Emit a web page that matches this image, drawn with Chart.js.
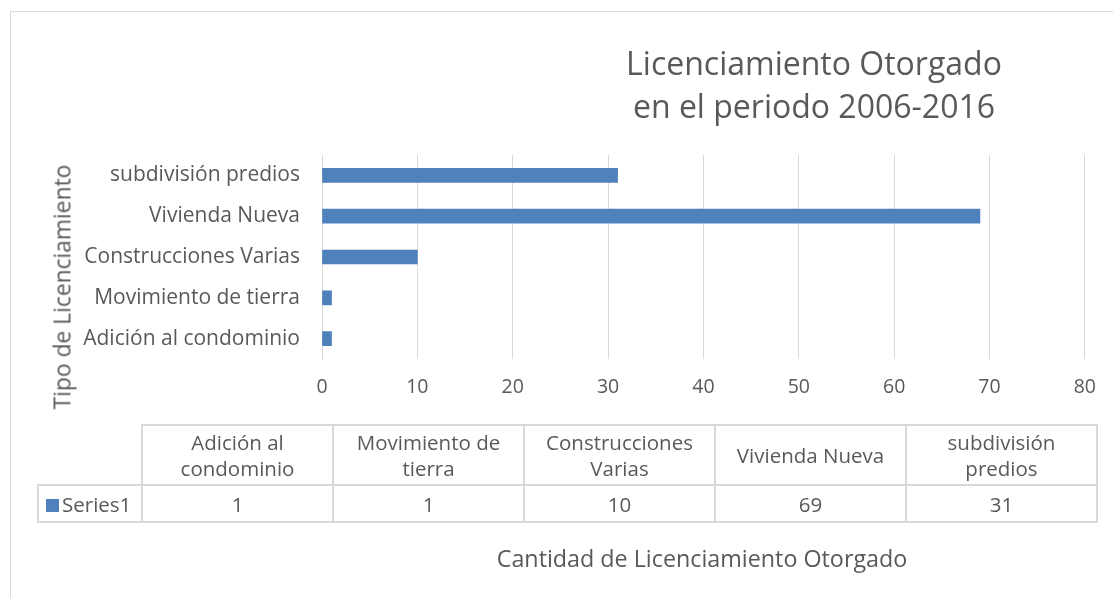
<!DOCTYPE html>
<html>
<head>
<meta charset="utf-8">
<script src="https://cdn.jsdelivr.net/npm/chart.js@4"></script>
<style>
  html, body { margin:0; padding:0; background:#fff; }
  body { width:1113px; height:598px; position:relative; overflow:hidden; font-family: "Open Sans", Lato, sans-serif; color:#595959; }
  #frame { position:absolute; left:10px; top:11px; width:1200px; height:700px; border:1px solid #d9d9d9; box-sizing:border-box; }
  #wrap { position:absolute; left:0; top:0; width:1113px; height:598px; }
  #title { position:absolute; left:564px; width:500px; top:41px; text-align:center; font-size:32px; line-height:43px; color:#595959; }
  #ytitle { position:absolute; left:62px; top:287px; transform:translate(-50%,-50%) rotate(-90deg); white-space:nowrap; font-size:22.8px; }
  #xtitle { position:absolute; left:702px; top:558px; transform:translate(-50%,-50%); white-space:nowrap; font-size:23.3px; }
  #tbl { position:absolute; left:37px; top:424px; border-collapse:collapse; font-size:20.5px; }
  #tbl td { border:2px solid #d9d9d9; text-align:center; padding:0; line-height:26px; }
  #tbl tr.h td { height:58px; }
  #tbl tr.d td { height:35px; }
  #tbl td.blank { border-top:none; border-left:none; }
  .sw { display:inline-block; width:13px; height:13px; background:#4f81bd; margin-right:3px; vertical-align:0px; }
</style>
</head>
<body>
<div id="frame"></div>
<div id="wrap"><canvas id="c" width="1113" height="598"></canvas></div>
<div id="title">Licenciamiento Otorgado<br>en el periodo 2006-2016</div>
<div id="ytitle">Tipo de Licenciamiento</div>
<div id="xtitle">Cantidad de Licenciamiento Otorgado</div>
<table id="tbl"></table>
<script>
const categories = ["Adición al condominio", "Movimiento de tierra", "Construcciones Varias", "Vivienda Nueva", "subdivisión predios"];
const tableHeaders = [["Adición al", "condominio"], ["Movimiento de", "tierra"], ["Construcciones", "Varias"], ["Vivienda Nueva"], ["subdivisión", "predios"]];
const series1 = [1, 1, 10, 69, 31];
const seriesName = "Series1";
const xTicks = [0, 10, 20, 30, 40, 50, 60, 70, 80];

// build data table
const tbl = document.getElementById('tbl');
let h = '<tr class="h"><td class="blank" style="width:103px"></td>';
tableHeaders.forEach(lines => { h += '<td style="width:189px">' + lines.join('<br>') + '</td>'; });
h += '</tr><tr class="d"><td style="text-align:left;padding-left:7px"><span class="sw"></span>' + seriesName + '</td>';
series1.forEach(v => { h += '<td>' + v + '</td>'; });
h += '</tr>';
tbl.innerHTML = h;

const FONT = "'Open Sans', Lato, sans-serif";
new Chart(document.getElementById('c'), {
  type: 'bar',
  data: {
    labels: categories,
    datasets: [{ label: seriesName, data: series1, backgroundColor: '#4f81bd', barThickness: 14 }]
  },
  options: {
    indexAxis: 'y',
    responsive: false,
    animation: false,
    layout: { padding: { left: 0, right: 28, top: 155, bottom: 199 } },
    plugins: { legend: { display: false }, title: { display: false }, tooltip: { enabled: false } },
    scales: {
      x: {
        min: xTicks[0], max: xTicks[xTicks.length - 1],
        afterBuildTicks: s => { s.ticks = xTicks.map(v => ({ value: v })); },
        afterFit: s => { s.height = 40; },
        grid: { color: '#d9d9d9', lineWidth: 1, drawTicks: false },
        border: { display: false },
        ticks: { color: '#595959', font: { family: FONT, size: 19.5 }, padding: 17 }
      },
      y: {
        reverse: true,
        afterFit: s => { s.width = 322; },
        grid: { display: false, drawTicks: false },
        border: { display: true, color: '#d9d9d9', width: 1 },
        ticks: { color: '#595959', font: { family: FONT, size: 21 }, padding: 22 }
      }
    }
  }
});
</script>
</body>
</html>
